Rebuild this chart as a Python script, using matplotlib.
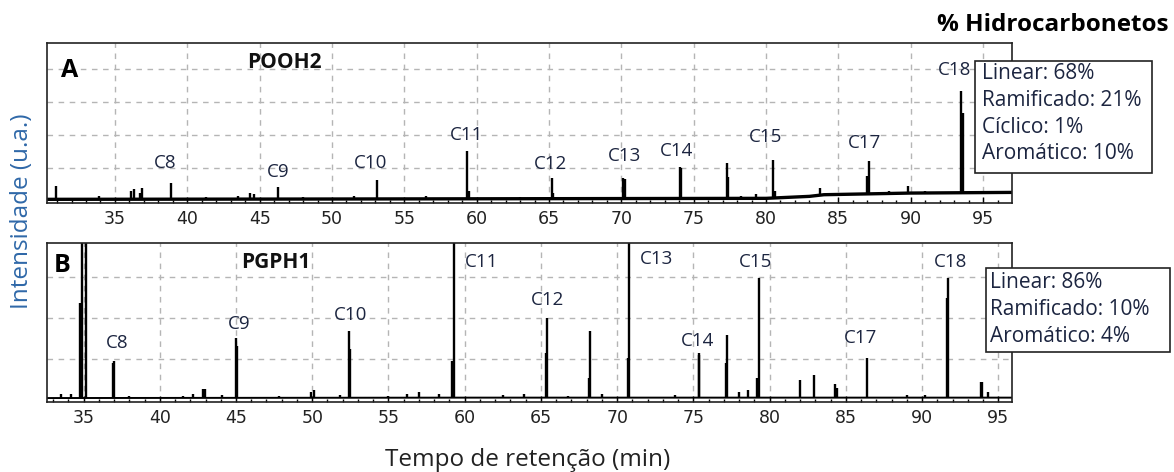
import matplotlib
matplotlib.use("Agg")
import matplotlib.pyplot as plt
from matplotlib.patches import Rectangle
import numpy as np

# ---------------- Sample A: POOH2 ----------------
a_name = "POOH2"
a_peak_rt = [30.9, 33.9, 36.1, 36.3, 36.7, 36.9, 38.9, 41.3, 43.5, 44.3, 44.6,
             46.3, 48.0, 51.5, 53.1, 56.5, 59.35, 59.45, 63.0, 65.2, 65.3, 68.0,
             70.1, 70.25, 74.05, 74.15, 77.3, 77.4, 78.3, 79.3, 80.5, 80.6,
             83.7, 85.0, 87.0, 87.1, 88.5, 89.8, 91.0, 93.5, 93.6, 95.0, 96.0]
a_peak_int = [0.45, 0.15, 0.30, 0.35, 0.25, 0.38, 0.55, 0.12, 0.15, 0.25, 0.20,
              0.42, 0.12, 0.15, 0.64, 0.15, 1.52, 0.30, 0.12, 0.70, 0.25, 0.12,
              0.70, 0.68, 1.03, 1.00, 1.15, 0.73, 0.15, 0.20, 1.24, 0.30,
              0.40, 0.25, 0.75, 1.21, 0.30, 0.45, 0.30, 3.33, 2.67, 0.30, 0.30]
a_base_rt = [30.3, 50.0, 80.0, 83.0, 84.0, 90.0, 97.0]
a_base_int = [0.05, 0.06, 0.08, 0.14, 0.19, 0.24, 0.26]
a_alkanes = ["C8", "C9", "C10", "C11", "C12", "C13", "C14", "C15", "C17", "C18"]
a_composition = ["Linear: 68%", "Ramificado: 21%", "Cíclico: 1%", "Aromático: 10%"]

# ---------------- Sample B: PGPH1 ----------------
b_name = "PGPH1"
b_peak_rt = [33.5, 34.2, 34.8, 34.92, 35.15, 36.95, 37.0, 38.0, 41.5, 42.2,
             42.85, 42.95, 44.1, 45.0, 45.05, 47.8, 49.9, 50.1, 51.8, 52.4,
             52.45, 55.0, 56.2, 57.0, 58.3, 59.15, 59.3, 62.5, 63.9, 65.35,
             65.4, 66.8, 68.15, 68.2, 69.0, 70.7, 70.8, 73.8, 75.35, 75.4,
             77.15, 77.2, 78.0, 78.6, 79.2, 79.3, 82.0, 82.9, 84.3, 84.4,
             86.4, 89.0, 90.2, 91.65, 91.7, 93.85, 93.95, 94.3]
b_peak_int = [0.15, 0.15, 2.37, 6.00, 6.00, 0.90, 0.95, 0.10, 0.10, 0.15,
              0.27, 0.27, 0.12, 1.51, 1.32, 0.10, 0.20, 0.25, 0.12, 1.68,
              1.24, 0.10, 0.15, 0.20, 0.15, 0.95, 6.00, 0.12, 0.15, 1.15,
              2.00, 0.10, 0.55, 1.68, 0.15, 1.02, 6.00, 0.12, 1.10, 1.15,
              0.90, 1.60, 0.20, 0.25, 0.55, 2.98, 0.50, 0.60, 0.40, 0.30,
              1.02, 0.12, 0.12, 2.50, 2.98, 0.45, 0.45, 0.20]
b_base_rt = [32.6, 60.0, 70.0, 95.9]
b_base_int = [0.05, 0.06, 0.06, 0.06]
b_alkanes = ["C8", "C9", "C10", "C11", "C12", "C13", "C14", "C15", "C17", "C18"]
b_composition = ["Linear: 86%", "Ramificado: 10%", "Aromático: 4%"]

x_ticks = [35, 40, 45, 50, 55, 60, 65, 70, 75, 80, 85, 90, 95]

TEXT_FONT = ["Open Sans", "DejaVu Sans"]
LABEL_COLOR = "#1c2540"

fig = plt.figure(figsize=(11.74, 4.72), dpi=100)


def draw_panel(rect, xlim, ylim, grid_y, peak_rt, peak_int, base_rt, base_int,
               base_lw, label_xy, names, letter, letter_xy, name, name_xy):
    ax = fig.add_axes(rect)
    ax.set_xlim(*xlim)
    ax.set_ylim(*ylim)
    ax.set_xticks(x_ticks)
    ax.set_xticks(np.arange(np.ceil(xlim[0]), xlim[1], 1.0), minor=True)
    ax.set_yticks(grid_y)
    ax.set_yticklabels([])
    ax.tick_params(axis="y", length=0)
    ax.tick_params(axis="x", which="major", direction="in", length=4, width=1,
                   pad=5, labelsize=12.5, labelcolor="#222222")
    ax.tick_params(axis="x", which="minor", direction="in", length=2.5, width=1)
    ax.grid(True, which="major", color="#b5b5b5", linestyle=(0, (4, 4)), lw=1)
    ax.set_axisbelow(True)
    for s in ax.spines.values():
        s.set_linewidth(1.2)
        s.set_color("#222222")

    ax.plot(base_rt, base_int, color="black", lw=base_lw, solid_capstyle="butt")
    starts = np.interp(peak_rt, base_rt, base_int)
    ax.vlines(peak_rt, starts, peak_int, color="black", lw=1.7)

    for lab, (lx, ly) in zip(names, label_xy):
        ax.text(lx, ly, lab, ha="center", va="center", fontsize=13.5,
                family=TEXT_FONT, color=LABEL_COLOR)
    ax.text(*letter_xy, letter, transform=ax.transAxes, ha="center", va="center",
            fontsize=18, fontweight="bold", family=TEXT_FONT, color="black")
    ax.text(*name_xy, name, transform=ax.transAxes, ha="center", va="center",
            fontsize=15, fontweight="bold", family=TEXT_FONT, color="#111111")
    return ax


a_label_xy = [(38.5, 1.15), (46.3, 0.88), (52.7, 1.15), (59.3, 2.0), (65.1, 1.12),
              (70.2, 1.36), (73.8, 1.52), (80.0, 1.94), (86.8, 1.76), (93.0, 3.97)]
b_label_xy = [(37.2, 1.39), (45.2, 1.85), (52.5, 2.07), (61.1, 3.37), (65.4, 2.44),
              (72.6, 3.44), (75.3, 1.44), (79.1, 3.37), (86.0, 1.51), (91.9, 3.37)]

draw_panel([0.040, 0.570, 0.822, 0.339], (30.3, 97.0), (-0.06, 4.79), [1, 2, 3, 4],
           a_peak_rt, a_peak_int, a_base_rt, a_base_int, 2.4, a_label_xy, a_alkanes,
           "A", (0.024, 0.83), a_name, (0.246, 0.88))
draw_panel([0.040, 0.148, 0.822, 0.337], (32.6, 95.9), (-0.05, 3.83), [1, 2, 3],
           b_peak_rt, b_peak_int, b_base_rt, b_base_int, 1.4, b_label_xy, b_alkanes,
           "B", (0.016, 0.86), b_name, (0.237, 0.88))


def composition_box(x0, y0, w, h, lines, text_x, text_y):
    fig.patches.append(Rectangle((x0, y0), w, h, transform=fig.transFigure,
                                 facecolor="white", edgecolor="#222222", lw=1.2,
                                 zorder=5))
    for t, y in zip(lines, text_y):
        fig.text(text_x, y, t, ha="left", va="center", fontsize=15,
                 family=TEXT_FONT, color=LABEL_COLOR, zorder=6)


composition_box(0.8305, 0.6335, 0.1508, 0.2373, a_composition, 0.8365,
                [0.8453, 0.788, 0.729, 0.674])
composition_box(0.8399, 0.2542, 0.1567, 0.178, b_composition, 0.8433,
                [0.4025, 0.3453, 0.2881])

fig.text(0.897, 0.947, "% Hidrocarbonetos", ha="center", va="center", fontsize=17.5,
         fontweight="bold", family=TEXT_FONT, color="black")
fig.text(0.4497, 0.0254, "Tempo de retenção (min)", ha="center", va="center",
         fontsize=17.5, family=TEXT_FONT, color="#222222")
fig.text(0.0187, 0.553, "Intensidade (u.a.)", ha="center", va="center",
         rotation=90, fontsize=17.5, family=TEXT_FONT, color="#2f68a8")

fig.savefig("out.png", dpi=100)
